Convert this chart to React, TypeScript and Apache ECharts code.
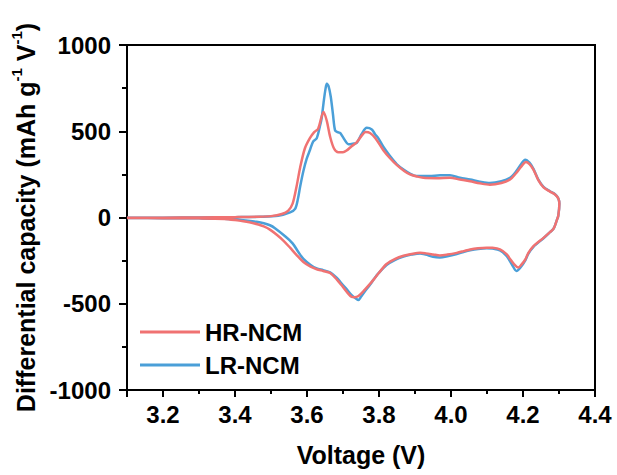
import React, { useEffect, useRef } from "react";
import * as echarts from "echarts";

const seriesNames = ["HR-NCM", "LR-NCM"];

const hrData: number[][] = [
  [3.10, -2], [3.20, -1], [3.30, 0], [3.40, 2], [3.46, 4], [3.50, 8], [3.53, 20], [3.548, 40],
  [3.56, 80], [3.571, 180], [3.581, 290], [3.594, 400], [3.608, 460], [3.62, 495], [3.631, 515],
  [3.646, 612], [3.655, 560], [3.664, 470], [3.675, 400], [3.687, 378], [3.70, 378], [3.71, 388],
  [3.724, 413], [3.738, 435], [3.752, 475], [3.763, 495], [3.775, 490], [3.79, 460], [3.812, 390],
  [3.83, 345], [3.849, 305], [3.87, 270], [3.886, 250], [3.905, 238], [3.923, 230], [3.96, 228],
  [3.997, 230], [4.025, 220], [4.053, 210], [4.08, 198], [4.108, 190], [4.14, 200], [4.164, 220],
  [4.18, 255], [4.195, 295], [4.208, 322], [4.218, 310], [4.229, 278], [4.243, 215], [4.257, 175],
  [4.275, 150], [4.289, 133], [4.298, 110], [4.301, 80],
  [4.298, 10], [4.294, -15], [4.285, -65], [4.275, -85], [4.257, -118], [4.229, -166], [4.215, -205],
  [4.206, -245], [4.195, -275], [4.187, -290], [4.175, -270], [4.164, -240], [4.155, -214],
  [4.136, -185], [4.115, -176], [4.099, -175], [4.075, -178], [4.053, -185], [4.035, -195],
  [4.016, -205], [3.99, -215], [3.969, -220], [3.95, -214], [3.93, -208], [3.914, -205],
  [3.89, -212], [3.868, -222], [3.845, -240], [3.821, -270], [3.80, -320], [3.785, -360],
  [3.775, -385], [3.76, -420], [3.743, -455], [3.732, -462], [3.724, -460], [3.71, -430],
  [3.695, -390], [3.683, -360], [3.664, -322], [3.645, -310], [3.627, -300], [3.61, -285],
  [3.59, -258], [3.57, -215], [3.553, -175], [3.535, -135], [3.516, -100], [3.497, -70],
  [3.48, -52], [3.465, -41], [3.44, -28], [3.40, -15], [3.37, -8], [3.30, -5], [3.20, -4], [3.10, -3],
];

const lrData: number[][] = [
  [3.10, -2], [3.20, -1], [3.30, 0], [3.40, 2], [3.47, 4], [3.52, 10], [3.553, 30], [3.567, 50],
  [3.575, 110], [3.581, 180], [3.59, 270], [3.599, 340], [3.608, 390], [3.617, 440], [3.627, 460],
  [3.636, 530], [3.641, 580], [3.646, 665], [3.651, 740], [3.655, 775], [3.66, 760], [3.666, 700],
  [3.672, 600], [3.678, 505], [3.685, 495], [3.692, 490], [3.703, 455], [3.715, 425], [3.727, 428],
  [3.738, 433], [3.752, 485], [3.766, 520], [3.78, 510], [3.79, 480], [3.798, 460], [3.812, 410],
  [3.831, 355], [3.849, 310], [3.868, 278], [3.886, 255], [3.905, 240], [3.94, 240], [3.97, 245],
  [3.997, 245], [4.025, 230], [4.053, 220], [4.08, 208], [4.108, 200], [4.14, 210], [4.164, 230],
  [4.18, 265], [4.195, 310], [4.206, 335], [4.218, 318], [4.229, 282], [4.243, 218], [4.257, 178],
  [4.275, 152], [4.289, 135], [4.298, 112], [4.301, 80],
  [4.298, 10], [4.294, -15], [4.285, -65], [4.275, -85], [4.257, -120], [4.229, -170], [4.215, -210],
  [4.206, -250], [4.193, -290], [4.182, -310], [4.17, -275], [4.155, -225], [4.136, -190],
  [4.115, -180], [4.099, -178], [4.075, -182], [4.053, -190], [4.035, -200], [4.016, -212],
  [3.99, -225], [3.969, -232], [3.95, -228], [3.93, -215], [3.914, -208], [3.89, -215],
  [3.868, -226], [3.845, -245], [3.821, -275], [3.80, -320], [3.785, -360], [3.775, -390],
  [3.76, -430], [3.75, -460], [3.743, -478], [3.735, -468], [3.724, -450], [3.71, -415],
  [3.695, -380], [3.683, -350], [3.664, -318], [3.645, -305], [3.627, -295], [3.61, -275],
  [3.59, -240], [3.576, -200], [3.56, -150], [3.54, -110], [3.511, -62], [3.497, -45], [3.48, -33],
  [3.46, -25], [3.43, -18], [3.40, -12], [3.37, -7], [3.30, -5], [3.20, -4], [3.10, -3],
];

const xMin = 3.1;
const xMax = 4.4;
const yMin = -1000;
const yMax = 1000;
const yStep = 500;

const FONT = "'Liberation Sans', Arial, sans-serif";
const RED = "#F07272";
const BLUE = "#4A9FD8";

export default function App() {
  const ref = useRef<HTMLDivElement>(null);
  useEffect(() => {
    if (!ref.current) return;
    const chart = echarts.init(ref.current, undefined, { renderer: "svg" });
    chart.setOption({
      animation: false,
      backgroundColor: "#ffffff",
      grid: {
        left: 127, right: 22, top: 45, bottom: 85,
        show: true, borderColor: "#000", borderWidth: 2, backgroundColor: "transparent",
      },
      legend: {
        data: seriesNames,
        orient: "vertical",
        left: 140,
        top: 320,
        padding: 0,
        icon: "rect",
        itemWidth: 60,
        itemHeight: 3,
        itemGap: 9,
        textStyle: { fontFamily: FONT, fontWeight: "bold", fontSize: 24, color: "#000", lineHeight: 24 },
      },
      xAxis: [
        {
          type: "value",
          min: xMin,
          max: xMax,
          minInterval: 0.2,
          maxInterval: 0.2,
          splitNumber: 6,
          position: "bottom",
          name: "Voltage (V)",
          nameLocation: "middle",
          nameGap: 52,
          nameTextStyle: { fontFamily: FONT, fontWeight: "bold", fontSize: 25, color: "#000" },
          axisLine: { show: true, onZero: false, lineStyle: { color: "#000", width: 2 } },
          axisTick: { show: true, inside: false, length: 7, lineStyle: { color: "#000", width: 2 } },
          axisLabel: {
            margin: 12,
            fontFamily: FONT, fontWeight: "bold", fontSize: 24, color: "#000",
            formatter: (v: number) => (v < 3.15 ? "" : v.toFixed(1)),
          },
          splitLine: { show: false },
        },
        {
          type: "value",
          min: xMin,
          max: xMax,
          interval: 0.1,
          position: "bottom",
          axisLine: { show: false, onZero: false },
          axisTick: { show: true, inside: false, length: 4, lineStyle: { color: "#000", width: 2 } },
          axisLabel: { show: false },
          splitLine: { show: false },
        },
      ],
      yAxis: {
        type: "value",
        min: yMin,
        max: yMax,
        interval: yStep,
        name: "{a|Differential capacity (mAh g}{s|-1}{a| V}{s|-1}{a|)}",
        nameLocation: "middle",
        nameGap: 85,
        nameTextStyle: {
          fontFamily: FONT, fontWeight: "bold", fontSize: 25, color: "#000",
          rich: {
            a: { fontFamily: FONT, fontWeight: "bold", fontSize: 25, color: "#000", lineHeight: 30, verticalAlign: "bottom" },
            s: { fontFamily: FONT, fontWeight: "bold", fontSize: 15, color: "#000", lineHeight: 30, verticalAlign: "top" },
          },
        },
        axisLine: { show: true, onZero: false, lineStyle: { color: "#000", width: 2 } },
        axisTick: { show: true, inside: false, length: 8, lineStyle: { color: "#000", width: 2 } },
        minorTick: { show: true, splitNumber: 2, length: 5, lineStyle: { color: "#000", width: 2 } },
        axisLabel: {
          margin: 16, fontFamily: FONT, fontWeight: "bold", fontSize: 24, color: "#000",
          formatter: (v: number) => String(v),
        },
        splitLine: { show: false },
      },
      series: [
        {
          name: "LR-NCM",
          type: "line",
          data: lrData,
          showSymbol: false,
          smooth: 0.3,
          color: BLUE,
          lineStyle: { color: BLUE, width: 2.5 },
          z: 2,
        },
        {
          name: "HR-NCM",
          type: "line",
          data: hrData,
          showSymbol: false,
          smooth: 0.3,
          color: RED,
          lineStyle: { color: RED, width: 2.5 },
          z: 3,
        },
      ],
    });
    return () => chart.dispose();
  }, []);
  return (
    <div
      ref={ref}
      style={{ position: "absolute", left: 0, top: 0, width: 617, height: 475, background: "#fff" }}
    />
  );
}
